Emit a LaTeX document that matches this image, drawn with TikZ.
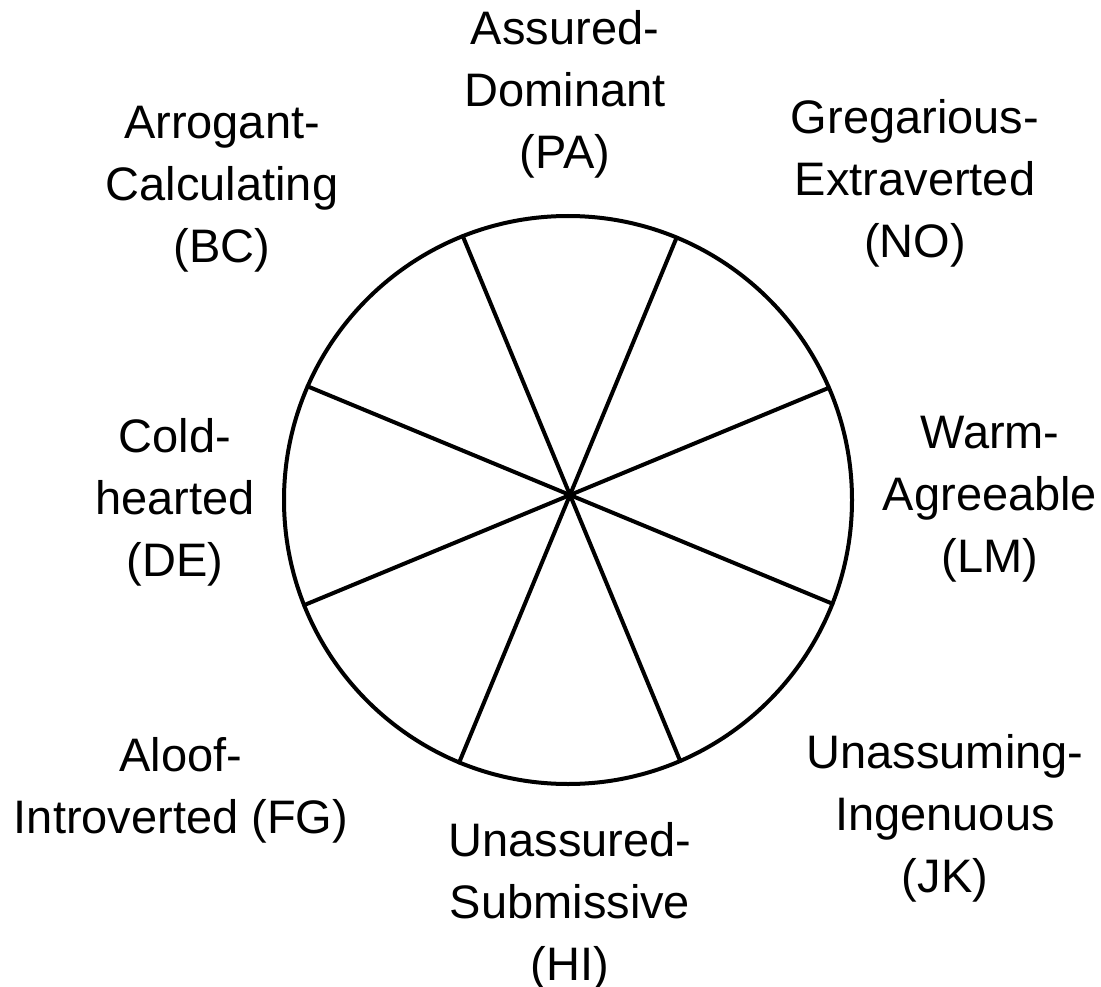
\documentclass[tikz,border=0pt]{standalone}
\usepackage{fontspec}
\setmainfont{Liberation Sans}
\begin{document}
\begin{tikzpicture}[x=1pt,y=-1pt,
  lbl/.style={align=center, font=\fontsize{47}{62}\selectfont, inner sep=0pt},
  spoke/.style={line width=4pt, line cap=round}]
\useasboundingbox (0,0) rectangle (1101,987);
\fill[white] (0,0) rectangle (1101,987);
\coordinate (C) at (568,500);
\draw[spoke] (C) circle [radius=284pt];
% spoke end points on the circle
\coordinate (e1) at (828.9,387.8);
\coordinate (e1b) at (304.2,605.1);
\coordinate (e2) at (676.6,237.6);
\coordinate (e2b) at (459.2,762.4);
\coordinate (e3) at (462.8,236.2);
\coordinate (e3b) at (680.2,761.0);
\coordinate (e4) at (307.7,386.4);
\coordinate (e4b) at (832.4,603.7);
\draw[spoke] (e1) -- (e1b);
\draw[spoke] (e2) -- (e2b);
\draw[spoke] (e3) -- (e3b);
\draw[spoke] (e4) -- (e4b);
% labels
\node[lbl] (PA) at (565,94) {Assured-\\Dominant\\(PA)};
\node[lbl] (BC) at (222,189) {Arrogant-\\Calculating\\(BC)};
\node[lbl] (NO) at (915,183) {Gregarious-\\Extraverted\\(NO)};
\node[lbl] (LM) at (990,499) {Warm-\\Agreeable\\(LM)};
\node[lbl] (DE) at (175,502) {Cold-\\hearted\\(DE)};
\node[lbl] (FG) at (181,790) {Aloof-\\Introverted (FG)};
\node[lbl] (HI) at (570,906) {Unassured-\\Submissive\\(HI)};
\node[lbl] (JK) at (945,818) {Unassuming-\\Ingenuous\\(JK)};
\end{tikzpicture}
\end{document}
